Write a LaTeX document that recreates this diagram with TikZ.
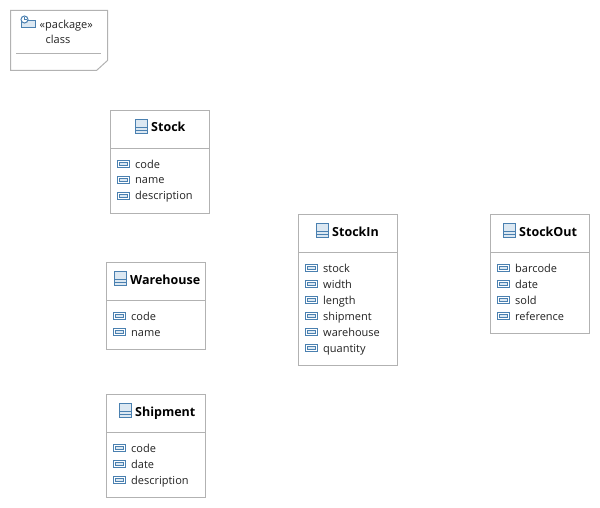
\documentclass[tikz,border=0pt]{standalone}
\usepackage{fontspec}
\setmainfont{Open Sans}
\definecolor{edge}{HTML}{B2B2B2}
\definecolor{iconblue}{HTML}{4A80B0}
\definecolor{iconfill}{HTML}{DCE8F2}
\definecolor{txt}{HTML}{222222}
\tikzset{
  box/.style={draw=edge,line width=1pt,fill=white},
  sep/.style={draw=edge,line width=1pt},
  icon/.style={draw=iconblue,line width=1pt,fill=iconfill},
  attr/.style={anchor=base west,inner sep=0pt,font=\fontsize{11}{13}\selectfont,text=txt},
  ttl/.style={anchor=base west,inner sep=0pt,font=\fontsize{12.5}{14}\selectfont\bfseries,text=black},
  pkgtxt/.style={anchor=base west,inner sep=0pt,font=\fontsize{11}{13}\selectfont,text=txt},
}
\newcommand{\classicon}[2]{%
  \draw[icon] (#1+0.5,#2-7.5) rectangle (#1+12.5,#2+6.5);
  \draw[iconblue,line width=1pt] (#1+0.5,#2+0.5) -- (#1+12.5,#2+0.5) (#1+0.5,#2+3.5) -- (#1+12.5,#2+3.5);
}
\newcommand{\attrow}[3]{%
  \draw[icon,fill=white] (#1+7.5,#2-3.5) rectangle (#1+19.5,#2+3.5);
  \draw[draw=iconblue,line width=.6pt,fill=iconfill] (#1+9.5,#2-1.5) rectangle (#1+17.5,#2+1.5);
  \node[attr] at (#1+25,#2+4) {#3};
}
\newcommand{\classbox}[6]{%
  \draw[box] (#1+.5,#2+.5) rectangle (#1+99.5,#3+.5);
  \draw[sep] (#1+.5,#2+38.5) -- (#1+99.5,#2+38.5);
  \classicon{#1+#5-16}{#2+17}
  \node[ttl] at (#1+#5,#2+22) {#4};
  \foreach \nm [count=\i from 0] in {#6} {\attrow{#1}{#2+54+16*\i}{\nm}}
}
\begin{document}
\begin{tikzpicture}[x=1pt,y=-1pt]
\useasboundingbox (0,0) rectangle (600,508);
% package
\draw[box] (10.5,10.5) -- (107.5,10.5) -- (107.5,60.5) -- (96.5,70.5) -- (10.5,70.5) -- cycle;
\draw[sep] (16,53.5) -- (101,53.5);
\draw[icon] (21.5,20.5) rectangle (35.5,27.5);
\draw[icon,fill=white] (24.5,19.5) circle (3.5);
\draw[iconblue,line width=.6pt] (24.5,17.5) -- (24.5,19.5) -- (26.5,19.5);
\node[pkgtxt] (pk) at (39.5,29) {«package»};
\node[pkgtxt] (cl) at (45.5,44) {class};
% classes
\classbox{110}{110}{213}{Stock}{41}{code,name,description}
\classbox{106}{262}{349}{Warehouse}{24}{code,name}
\classbox{106}{394}{497}{Shipment}{29}{code,date,description}
\classbox{298}{214}{365}{StockIn}{34}{stock,width,length,shipment,warehouse,quantity}
\classbox{490}{214}{333}{StockOut}{29}{barcode,date,sold,reference}
\end{tikzpicture}
\end{document}
